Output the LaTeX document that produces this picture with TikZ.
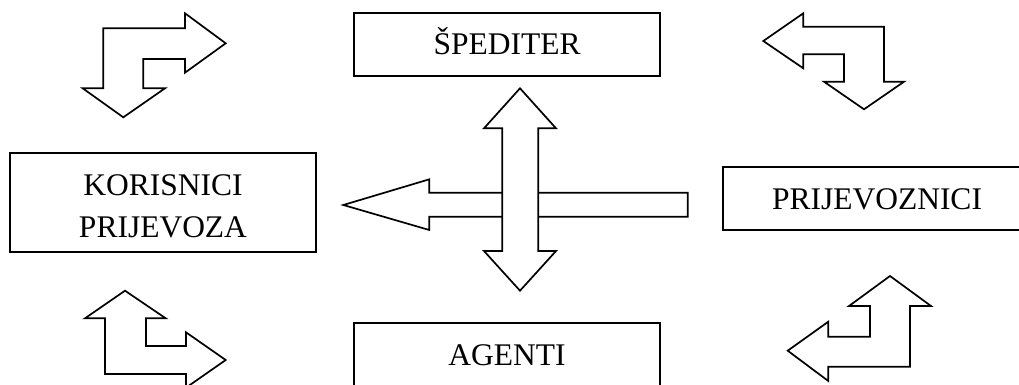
\documentclass[tikz,border=0pt]{standalone}
\usepackage{fontspec}
\setmainfont{Liberation Serif}

\tikzset{blockarrow/.style={draw,fill=white,line width=1.7pt,line join=miter}}

\begin{document}
\begin{tikzpicture}[x=1pt, y=-1pt]
\useasboundingbox (0,0) rectangle (1019,385);
\begin{scope}[every node/.style={rectangle,draw,line width=2pt,inner sep=0pt,align=center,font=\fontsize{31.5}{42}\selectfont,text height=21pt,text depth=0pt}]
    \node[minimum width=306pt, minimum height=63pt] (spediter) at (507,44.5) {ŠPEDITER};
    \node[minimum width=306pt, minimum height=99pt, text height=69pt] (korisnici) at (163,202.5) {KORISNICI\\PRIJEVOZA};
    \node[minimum width=308pt, minimum height=63pt] (prijevoznici) at (877,198.5) {PRIJEVOZNICI};
    \node[minimum width=306pt, minimum height=63pt] (agenti) at (507,354.5) {AGENTI};
\end{scope}
\begin{scope}[every path/.style={blockarrow}]
    \path (123.3,117.3) -- (82.7,88.3) -- (103.3,88.3) -- (103.3,28.3) -- (185,28.3) -- (185,13.3) -- (225.7,43.3) -- (185,72.7) -- (185,59) -- (143.3,59) -- (143.3,88.3) -- (165,88.3) -- cycle;
    \path (763.3,41) -- (803.3,13.3) -- (803.3,26.7) -- (884,26.7) -- (884,81.7) -- (904,81.7) -- (864,109.3) -- (824,81.7) -- (844,81.7) -- (844,54.3) -- (803.3,54.3) -- (803.3,68.3) -- cycle;
    \path (125,290.7) -- (165.7,318.3) -- (146,318.3) -- (146,346) -- (186,346) -- (186,332.3) -- (225.7,360) -- (186,387.7) -- (186,374) -- (105,374) -- (105,318.3) -- (85,318.3) -- cycle;
    \path (890,276) -- (931,306) -- (910,306) -- (910,366.7) -- (828.3,366.7) -- (828.3,381) -- (787.7,350.7) -- (828.3,321.7) -- (828.3,336.7) -- (870,336.7) -- (870,306) -- (849,306) -- cycle;
    \path (343.3,205) -- (429.3,179.3) -- (429.3,192.7) -- (687.7,192.7) -- (687.7,216.7) -- (429.3,216.7) -- (429.3,230) -- cycle;
    \path (520,88.3) -- (556,128.3) -- (538.3,128.3) -- (538.3,251) -- (556,251) -- (520,290.7) -- (484,251) -- (502.3,251) -- (502.3,128.3) -- (484,128.3) -- cycle;
\end{scope}
\end{tikzpicture}
\end{document}
